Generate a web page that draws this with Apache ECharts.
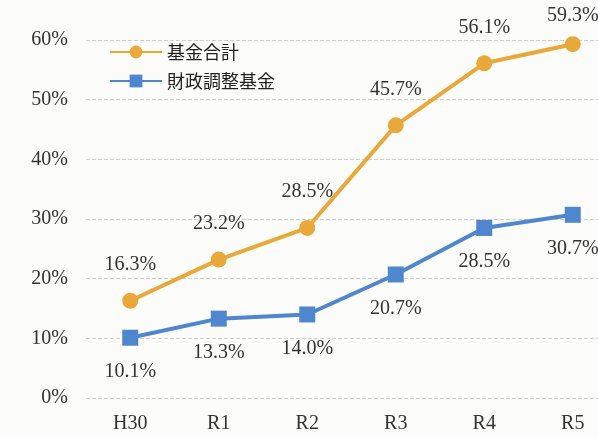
<!DOCTYPE html>
<html>
<head>
<meta charset="utf-8">
<script src="https://cdn.jsdelivr.net/npm/echarts@6/dist/echarts.min.js"></script>
<style>
  html, body { margin: 0; padding: 0; background: #fcfcfa; }
  #chart { width: 598px; height: 437px; }
</style>
</head>
<body>
<div id="chart"></div>
<script>
const years = ["H30", "R1", "R2", "R3", "R4", "R5"];
const fundTotal = [16.3, 23.2, 28.5, 45.7, 56.1, 59.3];
const fiscalAdjust = [10.1, 13.3, 14.0, 20.7, 28.5, 30.7];

const serif = "Liberation Serif";
const jp = "Noto Sans CJK JP";

let chart = echarts.init(document.getElementById("chart"));

// last orange label sits closer to its point in the original
let fundData = fundTotal.map((v, i) =>
    i === fundTotal.length - 1 ? { value: v, label: { distance: 10 } } : v
);

let option = {
    backgroundColor: "#fcfcfa",
    animation: false,
    legend: {
        orient: "vertical",
        left: 104,
        top: 38,
        itemGap: 11,
        itemWidth: 52,
        itemHeight: 16,
        textStyle: { fontFamily: jp, fontSize: 18, color: "#222" },
        data: ["基金合計", "財政調整基金"]
    },
    grid: { left: 86, top: 40, right: -19, bottom: 39, outerBoundsMode: "none" },
    xAxis: {
        type: "category",
        data: years,
        axisLine: { show: false },
        axisTick: { show: false },
        axisLabel: { fontFamily: serif, fontSize: 20, color: "#333", margin: 16 }
    },
    yAxis: {
        type: "value",
        min: 0,
        max: 60,
        interval: 10,
        axisLabel: {
            formatter: "{value}%",
            fontFamily: serif,
            fontSize: 20,
            color: "#333",
            margin: 18
        },
        splitLine: { lineStyle: { color: "#cfcfcf", type: "dashed", width: 1 } }
    },
    series: [
        {
            name: "基金合計",
            type: "line",
            data: fundData,
            symbol: "circle",
            symbolSize: 16,
            lineStyle: { width: 4, color: "#e9a83a" },
            itemStyle: { color: "#e9a83a" },
            label: {
                show: true,
                position: "top",
                distance: 18,
                formatter: p => p.value.toFixed(1) + "%",
                fontFamily: serif,
                fontSize: 20,
                color: "#333"
            }
        },
        {
            name: "財政調整基金",
            type: "line",
            data: fiscalAdjust,
            symbol: "rect",
            symbolSize: 16,
            lineStyle: { width: 4, color: "#4f87cf" },
            itemStyle: { color: "#4f87cf" },
            label: {
                show: true,
                position: "bottom",
                distance: 16,
                formatter: p => p.value.toFixed(1) + "%",
                fontFamily: serif,
                fontSize: 20,
                color: "#333"
            }
        }
    ]
};

chart.setOption(option);
</script>
</body>
</html>
